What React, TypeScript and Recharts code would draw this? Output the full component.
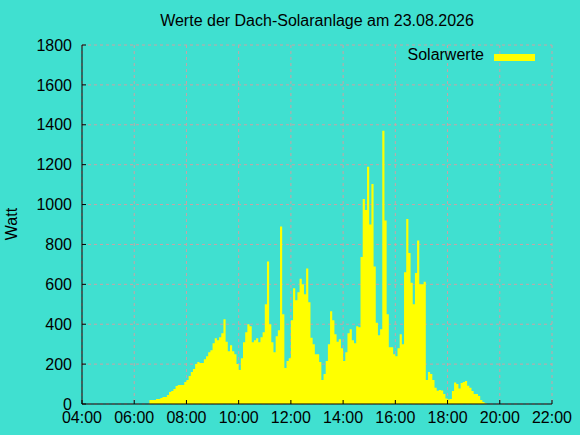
import { ComposedChart, Area, XAxis, YAxis, CartesianGrid } from 'recharts'

// Solar output in watts, 5-minute samples, one array per hour
const h06 = [20, 20, 20, 25, 25] // from 06:35
const h07 = [30, 35, 35, 45, 60, 65, 75, 90, 95, 95, 95, 110]
const h08 = [120, 140, 160, 175, 200, 210, 205, 205, 225, 240, 260, 270]
const h09 = [305, 330, 320, 335, 355, 425, 312, 265, 295, 265, 250, 200]
const h10 = [170, 230, 310, 360, 400, 390, 310, 320, 330, 310, 335, 360]
const h11 = [500, 715, 400, 310, 260, 340, 370, 890, 450, 180, 215, 230]
const h12 = [420, 580, 520, 560, 628, 600, 550, 680, 510, 332, 300, 250]
const h13 = [250, 210, 120, 150, 215, 300, 465, 420, 350, 312, 325, 280]
const h14 = [215, 260, 355, 375, 320, 305, 390, 385, 737, 1028, 973, 1190]
const h15 = [900, 1103, 690, 407, 345, 375, 1370, 920, 450, 285, 285, 250]
const h16 = [240, 280, 350, 300, 660, 928, 757, 608, 500, 657, 820, 600]
const h17 = [600, 613, 120, 160, 150, 120, 82, 67, 70, 68, 50, 28]
const h18 = [22, 25, 65, 108, 100, 78, 105, 110, 115, 92, 82, 65]
const h19 = [50, 50, 40, 20, 10, 3, 0]

const hourBlocks: [number, number, number[]][] = [
  [6, 35, h06],
  [7, 0, h07],
  [8, 0, h08],
  [9, 0, h09],
  [10, 0, h10],
  [11, 0, h11],
  [12, 0, h12],
  [13, 0, h13],
  [14, 0, h14],
  [15, 0, h15],
  [16, 0, h16],
  [17, 0, h17],
  [18, 0, h18],
  [19, 0, h19],
]

const xTicks = [240, 360, 480, 600, 720, 840, 960, 1080, 1200, 1320]
const yTicks = [0, 200, 400, 600, 800, 1000, 1200, 1400, 1600, 1800]

const data = hourBlocks.flatMap(([hour, minute, values]) =>
  values.map((watt, i) => ({ t: hour * 60 + minute + i * 5, watt })),
)

const FONT = '"Liberation Sans", Arial, sans-serif'
const BG = '#40e0d0'
const GRID = '#c9a3a5'

function fmtTime(m: number) {
  const h = Math.floor(m / 60)
  const mm = m % 60
  return `${String(h).padStart(2, '0')}:${String(mm).padStart(2, '0')}`
}

function BottomTick({ x, y, payload }: any) {
  return (
    <g>
      <line x1={x} y1={y} x2={x} y2={y - 4} stroke="#000" />
      <text x={x} y={y + 18.7} textAnchor="middle" fontSize={16} fontFamily={FONT} fill="#000">
        {fmtTime(payload.value)}
      </text>
    </g>
  )
}

function LeftTick({ x, y, payload }: any) {
  return (
    <g>
      <line x1={x} y1={y} x2={x + 4} y2={y} stroke="#000" />
      <text x={x - 10} y={y + 5.7} textAnchor="end" fontSize={16} fontFamily={FONT} fill="#000">
        {payload.value}
      </text>
    </g>
  )
}

function TopTick({ x, y }: any) {
  return <line x1={x} y1={y} x2={x} y2={y + 4} stroke="#000" />
}

function RightTick({ x, y }: any) {
  return <line x1={x} y1={y} x2={x - 4} y2={y} stroke="#000" />
}

export default function App() {
  return (
    <div
      style={{
        position: 'absolute',
        left: 0,
        top: 0,
        width: 580,
        height: 435,
        background: BG,
        fontFamily: FONT,
        color: '#000',
      }}
    >
      <ComposedChart
        width={580}
        height={435}
        data={data}
        margin={{ top: 45, right: 28, bottom: 0, left: 22 }}
      >
        <CartesianGrid stroke={GRID} strokeDasharray="3 3" />
        <XAxis
          dataKey="t"
          type="number"
          domain={[240, 1320]}
          ticks={xTicks}
          interval={0}
          height={31}
          tickSize={0}
          tickMargin={0}
          tickLine={false}
          axisLine={{ stroke: '#000' }}
          tick={<BottomTick />}
          allowDataOverflow
        />
        <XAxis
          xAxisId="top"
          orientation="top"
          type="number"
          domain={[240, 1320]}
          ticks={xTicks}
          interval={0}
          height={0}
          tickSize={0}
          tickMargin={0}
          tickLine={false}
          axisLine={{ stroke: '#000' }}
          tick={<TopTick />}
          allowDataOverflow
        />
        <YAxis
          type="number"
          domain={[0, 1800]}
          ticks={yTicks}
          interval={0}
          width={60}
          tickSize={0}
          tickMargin={0}
          tickLine={false}
          axisLine={{ stroke: '#000' }}
          tick={<LeftTick />}
          allowDataOverflow
        />
        <YAxis
          yAxisId="right"
          orientation="right"
          type="number"
          domain={[0, 1800]}
          ticks={yTicks}
          interval={0}
          width={0}
          tickSize={0}
          tickMargin={0}
          tickLine={false}
          axisLine={{ stroke: '#000' }}
          tick={<RightTick />}
          allowDataOverflow
        />
        <Area
          dataKey="watt"
          type="stepAfter"
          fill="#ffff00"
          fillOpacity={1}
          stroke="none"
          baseValue={0}
          isAnimationActive={false}
        />
      </ComposedChart>

      <div
        style={{
          position: 'absolute',
          left: 0,
          width: 634,
          top: 11,
          textAlign: 'center',
          fontSize: 16,
          lineHeight: '20px',
        }}
      >
        Werte der Dach-Solaranlage am 23.08.2026
      </div>

      <div
        style={{
          position: 'absolute',
          left: 12,
          top: 224,
          fontSize: 16,
          lineHeight: '20px',
          transform: 'translate(-50%, -50%) rotate(-90deg)',
          whiteSpace: 'nowrap',
        }}
      >
        Watt
      </div>

      <div
        style={{
          position: 'absolute',
          right: 580 - 484,
          top: 45,
          fontSize: 16,
          lineHeight: '20px',
          whiteSpace: 'nowrap',
        }}
      >
        Solarwerte
      </div>
      <div
        style={{
          position: 'absolute',
          left: 494,
          top: 54,
          width: 41,
          height: 7,
          background: '#ffff00',
        }}
      />
    </div>
  )
}
